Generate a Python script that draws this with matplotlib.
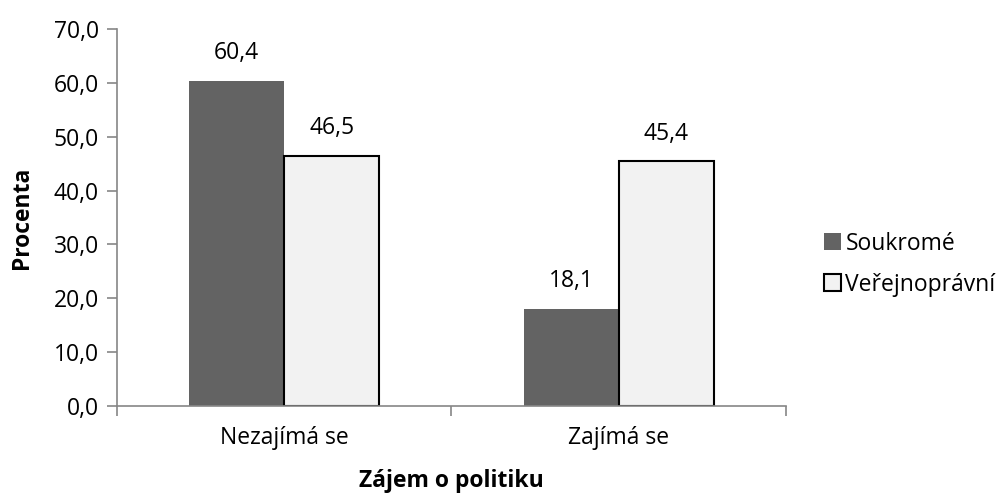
import matplotlib.pyplot as plt
import numpy as np

plt.rcParams['font.family'] = ['Open Sans', 'DejaVu Sans']

categories = ['Nezajímá se', 'Zajímá se']
series_names = ['Soukromé', 'Veřejnoprávní']
soukrome = [60.4, 18.1]
verejnopravni = [46.5, 45.4]
yticks = [0, 10, 20, 30, 40, 50, 60, 70]

fig = plt.figure(figsize=(10.07, 4.94), dpi=100)
ax = fig.add_axes([0.1162, 0.178, 0.6643, 0.7635])

x = np.arange(len(categories))
w = 0.284
axis_col = '#868686'
fs = 16.5

b1 = ax.bar(x - w / 2, soukrome, w, color='#636363', label=series_names[0])
b2 = ax.bar(x + w / 2, verejnopravni, w, color='#f2f2f2', edgecolor='black',
            linewidth=1.5, label=series_names[1])

for bars in (b1, b2):
    for r in bars:
        v = r.get_height()
        ax.annotate(f'{v:.1f}'.replace('.', ','), (r.get_x() + r.get_width() / 2, v),
                    xytext=(0, 11), textcoords='offset points',
                    ha='center', va='bottom', fontsize=fs)

ax.set_xlim(-0.5, 1.5)
ax.set_ylim(0, 70)
ax.set_yticks(yticks)
ax.set_yticklabels([f'{t:.1f}'.replace('.', ',') for t in yticks], fontsize=fs)

# category labels centred, tick marks on the boundaries
ax.set_xticks(x)
ax.set_xticklabels(categories, fontsize=fs)
ax.tick_params(axis='x', length=0, pad=14)
ax.set_xticks([-0.5, 0.5, 1.5], minor=True)
ax.tick_params(axis='x', which='minor', length=7, width=1.2, color=axis_col)
ax.tick_params(axis='y', length=7, width=1.2, color=axis_col, pad=6)

for s in ['top', 'right']:
    ax.spines[s].set_visible(False)
for s in ['left', 'bottom']:
    ax.spines[s].set_color(axis_col)
    ax.spines[s].set_linewidth(1.2)

ax.set_ylabel('Procenta', fontsize=fs, fontweight='bold', labelpad=14)
ax.set_xlabel('Zájem o politiku', fontsize=fs, fontweight='bold', labelpad=14)

fig.legend(handles=[b1, b2], loc='center left', bbox_to_anchor=(0.818, 0.465),
           frameon=False, fontsize=fs, handlelength=0.75, handleheight=0.75,
           handletextpad=0.2, labelspacing=0.75, borderpad=0, borderaxespad=0)

fig.savefig('out.png', dpi=100)
